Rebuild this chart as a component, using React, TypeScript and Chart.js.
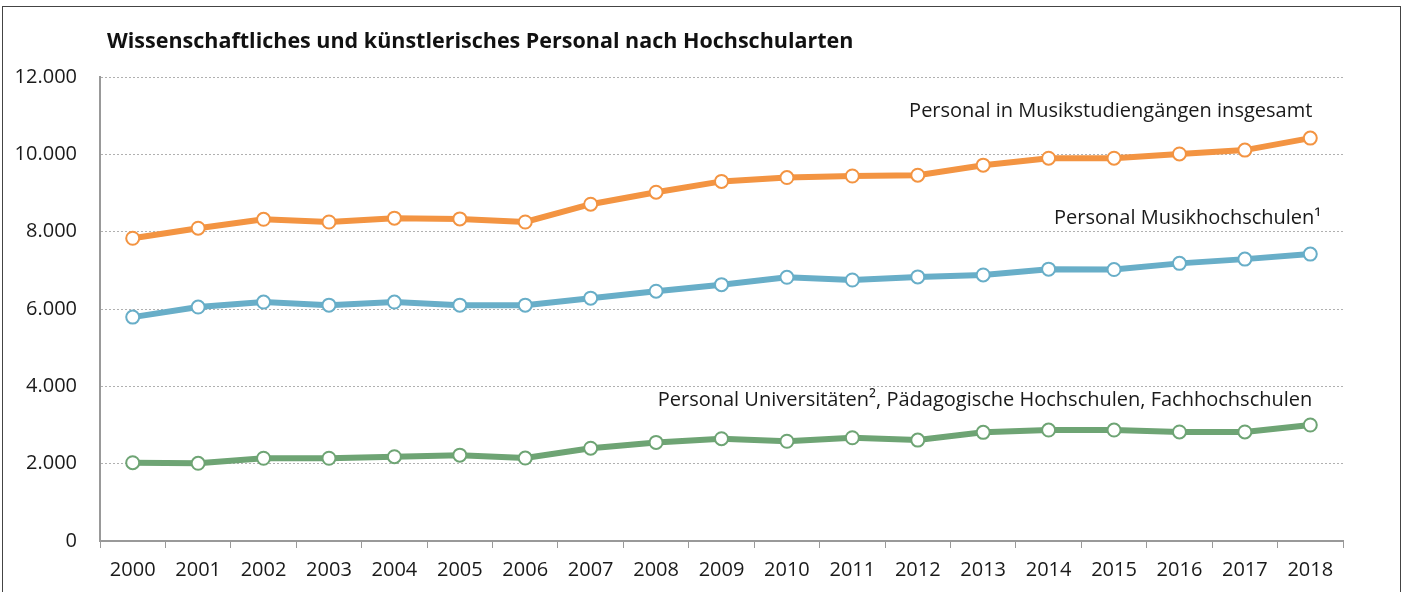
import React, { useEffect, useRef } from "react";
import { Chart, registerables } from "chart.js";

Chart.register(...registerables);

const years = ["2000","2001","2002","2003","2004","2005","2006","2007","2008","2009","2010","2011","2012","2013","2014","2015","2016","2017","2018"];

const totalStaff = [7830, 8090, 8320, 8250, 8350, 8330, 8250, 8710, 9020, 9300, 9400, 9440, 9460, 9720, 9900, 9900, 10010, 10110, 10420];
const musikhochschulen = [5790, 6050, 6180, 6100, 6180, 6100, 6100, 6280, 6460, 6630, 6820, 6750, 6830, 6880, 7030, 7020, 7180, 7290, 7420];
const otherSchools = [2025, 2010, 2140, 2140, 2180, 2220, 2146, 2400, 2550, 2645, 2580, 2670, 2610, 2810, 2870, 2870, 2820, 2820, 3000];

const seriesLabels = [
  "Personal in Musikstudiengängen insgesamt",
  "Personal Musikhochschulen¹",
  "Personal Universitäten², Pädagogische Hochschulen, Fachhochschulen",
];
const seriesColors = ["#F39442", "#68AEC8", "#6EA474"];
const labelAnchorValues = [11120, 8350, 3640];

const titleText = "Wissenschaftliches und künstlerisches Personal nach Hochschularten";
const FONT = "'Open Sans', 'Noto Sans', sans-serif";

export default function App() {
  const ref = useRef<HTMLCanvasElement | null>(null);

  useEffect(() => {
    if (!ref.current) return;
    const annot = {
      id: "annot",
      afterDraw(chart: any) {
        const ctx = chart.ctx;
        const xs = chart.scales.x;
        const ys = chart.scales.y;
        ctx.save();
        ctx.fillStyle = "#111";
        ctx.font = `bold 21.5px ${FONT}`;
        ctx.textAlign = "left";
        ctx.textBaseline = "alphabetic";
        ctx.fillText(titleText, 107, 48);
        ctx.font = `20px ${FONT}`;
        ctx.fillStyle = "#1a1a1a";
        ctx.textAlign = "right";
        ctx.textBaseline = "middle";
        const xr = xs.getPixelForValue(years.length - 1) + 2;
        seriesLabels.forEach((t, i) => {
          ctx.fillText(t, xr + (i === 1 ? 9 : 0), ys.getPixelForValue(labelAnchorValues[i]));
        });
        ctx.restore();
      },
    };
    const mk = (data: number[], color: string, label: string) => ({
      label,
      data,
      borderColor: color,
      backgroundColor: color,
      borderWidth: 6,
      pointRadius: 6.5,
      pointBorderWidth: 2,
      pointBackgroundColor: "#fff",
      pointBorderColor: color,
      tension: 0,
      clip: false as any,
    });
    const chart = new Chart(ref.current, {
      type: "line",
      data: {
        labels: years,
        datasets: [
          mk(totalStaff, seriesColors[0], seriesLabels[0]),
          mk(musikhochschulen, seriesColors[1], seriesLabels[1]),
          mk(otherSchools, seriesColors[2], seriesLabels[2]),
        ],
      },
      options: {
        responsive: false,
        animation: false,
        devicePixelRatio: 1,
        layout: { padding: { top: 77, right: 63, left: 0, bottom: 0 } },
        plugins: { legend: { display: false }, tooltip: { enabled: false }, title: { display: false } },
        scales: {
          x: {
            offset: true,
            grid: { offset: true, drawOnChartArea: false, drawTicks: true, tickLength: 7, color: "#999", lineWidth: 1 },
            border: { color: "#999", width: 2 },
            ticks: { color: "#1a1a1a", font: { family: FONT, size: 20 }, padding: 10, maxRotation: 0, autoSkip: false },
            afterFit: (s: any) => { s.height = 51; },
          },
          y: {
            min: 0,
            max: 12000,
            grid: { drawTicks: false, color: (c: any) => (c.tick && c.tick.value === 0 ? "rgba(0,0,0,0)" : "#b0b0b0"), lineWidth: 1 },
            border: { color: "#999", width: 2, dash: [2, 2] },
            ticks: {
              stepSize: 2000,
              padding: 23,
              color: "#1a1a1a",
              font: { family: FONT, size: 20 },
              callback: (v: any) => Number(v).toLocaleString("de-DE"),
            },
            afterFit: (s: any) => { s.width = 100; },
          },
        },
      },
      plugins: [annot],
    });
    return () => chart.destroy();
  }, []);

  return (
    <div style={{ position: "fixed", left: 0, top: 0, width: 1406, height: 592, overflow: "hidden", background: "#fff" }}>
      <div style={{ position: "absolute", left: 2, top: 6, width: 1399, height: 640, border: "1.5px solid #444", boxSizing: "border-box" }} />
      <canvas ref={ref} width={1406} height={592} style={{ position: "absolute", left: 0, top: 0, width: 1406, height: 592 }} />
    </div>
  );
}
